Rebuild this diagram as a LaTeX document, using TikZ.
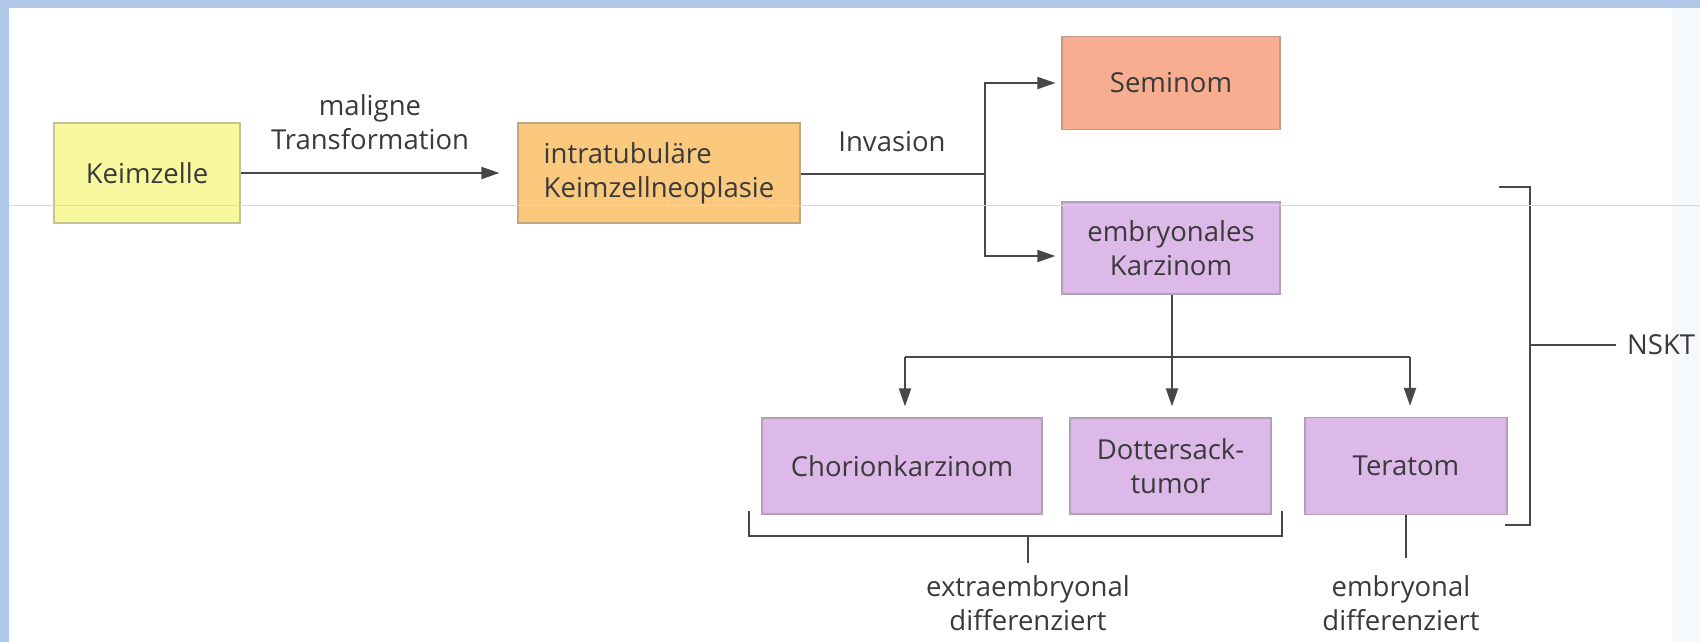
\documentclass[tikz,border=0pt]{standalone}
\usepackage{fontspec}
\setmainfont{Open Sans}
\usetikzlibrary{arrows.meta}
\definecolor{bandblue}{HTML}{B0C9EA}
\definecolor{scanline}{HTML}{CCDAEE}
\definecolor{txt}{HTML}{3A3A3A}
\definecolor{ln}{HTML}{474747}
\definecolor{cyellow}{HTML}{FAF89E}
\definecolor{corange}{HTML}{FBC97E}
\definecolor{csalmon}{HTML}{F8AD90}
\definecolor{cpurple}{HTML}{DDB9E9}
\tikzset{
  box/.style={draw=#1!55!gray, fill=#1, line width=1.2pt, inner sep=0pt,
    text=txt, align=center, font=\fontsize{27.5}{34}\selectfont},
  lbl/.style={text=txt, align=center, inner sep=0pt, font=\fontsize{27.5}{34}\selectfont},
  conn/.style={draw=ln, line width=2pt},
  arr/.style={conn, -{Triangle[length=18pt,width=12pt]}},
}
\begin{document}
\begin{tikzpicture}[x=1pt,y=-1pt]
\useasboundingbox (0,0) rectangle (1700,642);
% background
\fill[bandblue] (0,0) rectangle (1700,642);
\fill[white] (9,8) rectangle (1700,642);
\fill[bandblue!12] (1672,8) rectangle (1700,642);

% boxes
\node[box=cyellow, minimum width=186pt, minimum height=100pt] (keim) at (147,173) {Keimzelle};
\node[box=corange, minimum width=282pt, minimum height=100pt, align=left] (itgcn) at (659,173) {intratubuläre\\Keimzellneoplasie};
\node[box=csalmon, minimum width=218pt, minimum height=93pt] (sem) at (1171,83) {Seminom};
\node[box=cpurple, minimum width=218pt, minimum height=92pt] (emb) at (1171,248) {embryonales\\Karzinom};
\node[box=cpurple, minimum width=280pt, minimum height=96pt] (chor) at (902,466) {Chorionkarzinom};
\node[box=cpurple, minimum width=201pt, minimum height=96pt] (dot) at (1170.5,466) {Dottersack-\\tumor};
\node[box=cpurple, minimum width=202pt, minimum height=97pt] (ter) at (1406,466) {Teratom};

% labels
\node[lbl] (malig) at (370,122) {maligne\\Transformation};
\node[lbl] (inv) at (892,142) {Invasion};
\node[lbl] (extra) at (1028,603) {extraembryonal\\differenziert};
\node[lbl] (embd) at (1401,603) {embryonal\\differenziert};
\node[lbl, anchor=west] (nskt) at (1627,345) {NSKT};

% connectors
\draw[arr, shorten >=18pt] (keim.east) -- (itgcn.west);
\coordinate (j1) at (985,174);
\draw[conn] (itgcn.east |- j1) -- (j1);
\draw[arr, shorten >=6pt] (j1) |- (sem.west);
\draw[arr, shorten >=6pt] (j1) |- ([yshift=-8pt]emb.west);
\coordinate (j2) at (1172,357);
\draw[arr, shorten >=11pt] (emb.south -| j2) -- (dot.north -| j2);
\coordinate (jl) at (905,357);
\coordinate (jr) at (1410,357);
\draw[conn] (jl) -- (jr);
\draw[arr, shorten >=11pt] (jl) -- (chor.north -| jl);
\draw[arr, shorten >=11pt] (jr) -- (ter.north -| jr);

% bracket extraembryonal
\coordinate (b1) at (749,511);
\coordinate (b2) at (749,536);
\coordinate (b3) at (1282,536);
\coordinate (b4) at (1282,511);
\coordinate (b5) at (1028,536);
\coordinate (b6) at (1028,563);
\draw[conn, line width=1.6pt] (b1) -- (b2) -- (b3) -- (b4);
\draw[conn, line width=1.6pt] (b5) -- (b6);
% embryonal tick
\coordinate (t1) at (1406,558);
\draw[conn, line width=1.6pt] (ter.south -| t1) -- (t1);

% NSKT bracket
\coordinate (n1) at (1499,187);
\coordinate (n2) at (1530,187);
\coordinate (n3) at (1530,525);
\coordinate (n4) at (1505,525);
\coordinate (n5) at (1530,345);
\draw[conn, line width=1.6pt] (n1) -- (n2) -- (n3) -- (n4);
\draw[conn, line width=1.6pt] (n5) -- ([xshift=-11pt]nskt.west);

% scan line
\draw[scanline, line width=1pt] (9,205) -- (1700,205);
\end{tikzpicture}
\end{document}
